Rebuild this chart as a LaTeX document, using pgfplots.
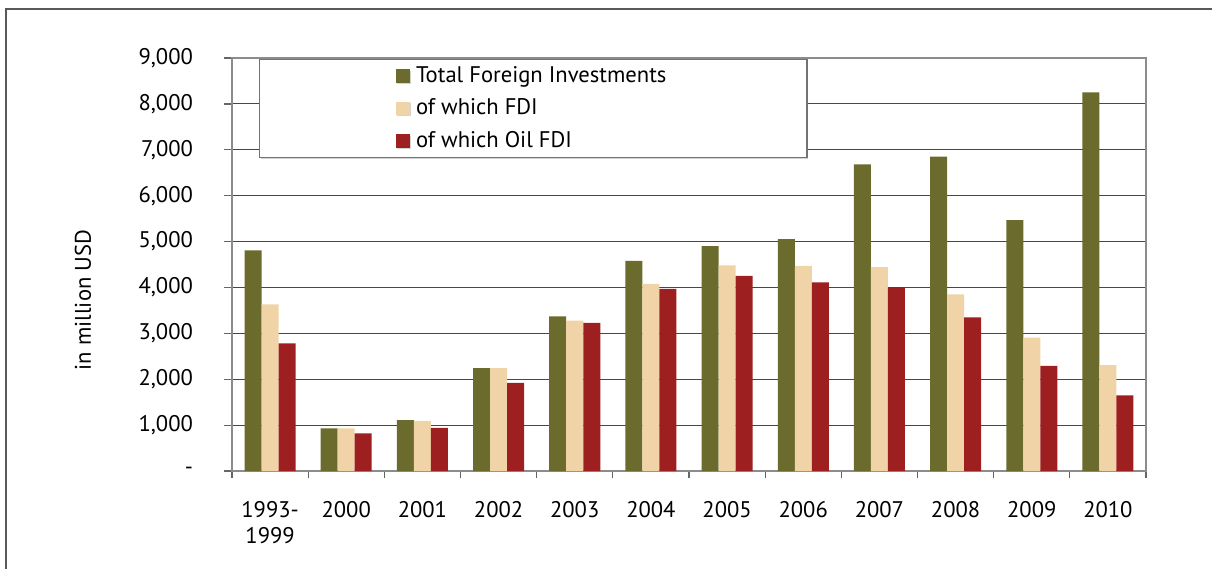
\documentclass[border=0pt]{standalone}
\usepackage{fontspec}
\setmainfont{PT Sans}
\usepackage{pgfplots}
\pgfplotsset{compat=1.18}
\usetikzlibrary{shadows}
\definecolor{olive1}{HTML}{6B6B2D}
\definecolor{beige1}{HTML}{F0D4A8}
\definecolor{red1}{HTML}{9E1F20}
\begin{document}
\begin{tikzpicture}
\useasboundingbox (0,0) rectangle (606pt,284.5pt);
\draw[black!65, line width=0.75pt] (3pt,0) -- (3pt,280pt) -- (606pt,280pt);
\begin{axis}[
  at={(116pt,49pt)}, anchor=south west,
  scale only axis, width=457pt, height=206.5pt,
  ybar=0pt, bar width=8.5pt,
  xmin=-0.5, xmax=11.5, ymin=0, ymax=9000,
  font=\fontsize{11.3}{13}\selectfont,
  xtick={0,...,11},
  xticklabels={{1993-\\1999},2000,2001,2002,2003,2004,2005,2006,2007,2008,2009,2010},
  xticklabel style={align=center, yshift=-7.5pt},
  major x tick style={draw=none},
  minor xtick={-0.5,0.5,...,11.5},
  minor tick length=3.5pt,
  major tick length=4pt,
  tick align=outside,
  tick pos=left,
  tick style={black!60, line width=0.6pt},
  ytick={0,1000,...,9000},
  yticklabels={-,{1,000},{2,000},{3,000},{4,000},{5,000},{6,000},{7,000},{8,000},{9,000}},
  yticklabel style={xshift=-12pt},
  ymajorgrids,
  grid style={black!72, line width=0.55pt},
  axis line style={black!45, line width=0.7pt},
  legend cell align=left,
  legend style={at={(rel axis cs:0.0295,0.998)}, anchor=north west,
    draw=black!55, line width=0.6pt, inner xsep=68.25pt, inner ysep=1.5pt, row sep=2.75pt,
    drop shadow={shadow xshift=0.6pt, shadow yshift=-0.6pt, opacity=0.35},
    font=\fontsize{11.3}{13}\selectfont},
  legend image code/.code={\fill[#1, draw=none] (-1pt,-3.3pt) rectangle (6pt,3.3pt); \path (7pt,0pt);},
]
\addplot[fill=olive1, draw=none] coordinates {(0,4810) (1,930) (2,1110) (3,2240) (4,3370) (5,4580) (6,4900) (7,5055) (8,6680) (9,6850) (10,5470) (11,8250)};
\addplot[fill=beige1, draw=none] coordinates {(0,3630) (1,930) (2,1090) (3,2240) (4,3275) (5,4080) (6,4480) (7,4470) (8,4445) (9,3850) (10,2905) (11,2310)};
\addplot[fill=red1, draw=none] coordinates {(0,2780) (1,820) (2,940) (3,1920) (4,3230) (5,3970) (6,4250) (7,4110) (8,4000) (9,3350) (10,2290) (11,1650)};
\legend{Total Foreign Investments, of which FDI, of which Oil FDI}
\end{axis}
\node[rotate=90, font=\fontsize{11.3}{13}\selectfont] at (41.5pt,134.5pt) {in million USD};
\end{tikzpicture}
\end{document}
